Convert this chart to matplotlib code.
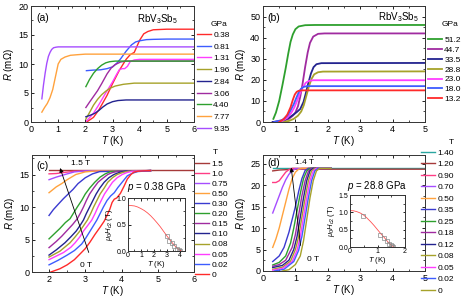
import matplotlib
matplotlib.use('Agg')
import matplotlib.pyplot as plt
from matplotlib.ticker import AutoMinorLocator, MultipleLocator, FormatStrFormatter

plt.rcParams['font.family'] = ['Liberation Sans', 'DejaVu Sans']
plt.rcParams['mathtext.fontset'] = 'custom'
plt.rcParams['mathtext.rm'] = 'Liberation Sans'
plt.rcParams['mathtext.it'] = 'Liberation Sans:italic'

# ---------------- colours ----------------
RED = '#ff2a2a'; BLUE = '#3d5cff'; MAG = '#ff3dff'; OLIVE = '#a6a22a'
NAVY = '#23238f'; PURP = '#a02ba0'; GREEN = '#2ea02e'; ORANGE = '#ffa23d'
VIOL = '#a64dff'; PINK = '#ff3d85'; BROWN = '#a63a3a'; TEAL = '#2aa6a0'
MBLUE = '#3a3ad0'

# ---------------- panel (a): R(T) at various pressures ----------------
a_labels = ['0.38', '0.81', '1.31', '1.96', '2.84', '3.06', '4.40', '7.77', '9.35']
a_colors = [RED, BLUE, MAG, OLIVE, NAVY, PURP, GREEN, ORANGE, VIOL]
a_T = [
    [2.05, 2.3, 2.5, 2.8, 3.0, 3.25, 3.5, 3.65, 3.8, 4.0, 4.15, 4.3, 4.5, 5.0, 6.0],
    [2.04, 2.3, 2.56, 2.8, 3.0, 3.15, 3.3, 3.5, 3.7, 3.85, 4.0, 4.25, 4.5, 5.0, 6.0],
    [2.05, 2.3, 2.5, 2.75, 3.0, 3.15, 3.25, 3.35, 3.45, 3.55, 3.65, 3.8, 4.0, 6.0],
    [2.02, 2.15, 2.3, 2.45, 2.6, 2.75, 2.9, 3.1, 3.4, 3.8, 4.2, 6.0],
    [2.02, 2.2, 2.35, 2.5, 2.65, 2.8, 3.0, 3.2, 3.5, 6.0],
    [2.02, 2.15, 2.3, 2.45, 2.6, 2.8, 2.95, 3.1, 3.3, 3.5, 6.0],
    [2.02, 2.15, 2.3, 2.45, 2.6, 2.75, 2.9, 3.1, 3.3, 6.0],
    [0.4, 0.5, 0.6, 0.7, 0.8, 0.9, 1.0, 1.1, 1.25, 1.45, 1.7, 2.0, 6.0],
    [0.4, 0.46, 0.52, 0.58, 0.64, 0.7, 0.76, 0.83, 0.92, 1.0, 6.0],
]
a_R = [
    [0.0, 0.8, 2.1, 4.6, 6.6, 8.9, 10.8, 11.6, 12.0, 14.1, 15.2, 15.6, 15.9, 16.0, 16.0],
    [8.85, 8.95, 9.0, 9.2, 9.5, 10.1, 10.9, 12.2, 13.3, 13.8, 14.0, 14.2, 14.25, 14.3, 14.3],
    [0.2, 1.5, 3.0, 5.0, 6.9, 8.2, 9.0, 9.2, 9.2, 9.6, 10.4, 10.7, 10.8, 10.8],
    [0.5, 1.6, 2.9, 3.9, 4.7, 5.3, 5.8, 6.2, 6.5, 6.7, 6.7, 6.7],
    [0.9, 1.2, 1.5, 2.0, 2.6, 3.1, 3.5, 3.7, 3.8, 3.8],
    [2.5, 3.4, 4.4, 5.4, 6.6, 8.3, 9.3, 9.9, 10.35, 10.5, 10.5],
    [6.1, 7.3, 8.4, 9.2, 9.8, 10.2, 10.4, 10.5, 10.5, 10.5],
    [1.7, 2.5, 3.2, 4.2, 5.6, 7.8, 10.0, 10.8, 11.2, 11.5, 11.6, 11.7, 11.7],
    [4.0, 6.4, 8.4, 10.1, 11.3, 12.0, 12.5, 12.8, 12.9, 12.95, 12.95],
]

# ---------------- panel (b): higher pressures ----------------
b_labels = ['51.2', '44.7', '33.5', '28.8', '23.0', '18.0', '13.2']
b_colors = [GREEN, PURP, NAVY, OLIVE, MAG, BLUE, RED]
b_T = [
    [0.32, 0.4, 0.5, 0.6, 0.7, 0.78, 0.85, 0.92, 1.0, 1.1, 1.3, 1.6, 5.0],
    [0.3, 0.6, 0.8, 0.92, 1.0, 1.08, 1.15, 1.22, 1.3, 1.38, 1.45, 1.55, 1.7, 1.9, 5.0],
    [0.3, 0.6, 0.8, 0.95, 1.05, 1.15, 1.25, 1.32, 1.4, 1.48, 1.56, 1.65, 1.8, 5.0],
    [0.6, 0.8, 0.95, 1.08, 1.18, 1.26, 1.34, 1.42, 1.5, 1.58, 1.7, 1.85, 5.0],
    [0.4, 0.6, 0.75, 0.88, 0.97, 1.05, 1.13, 1.22, 1.32, 1.42, 1.55, 5.0],
    [0.35, 0.6, 0.75, 0.85, 0.95, 1.03, 1.1, 1.17, 1.25, 1.35, 5.0],
    [0.5, 0.65, 0.75, 0.85, 0.92, 0.98, 1.04, 1.1, 1.2, 5.0],
]
b_R = [
    [1.5, 4.5, 10.0, 17.5, 25.5, 32.5, 38.0, 41.5, 44.0, 45.3, 45.9, 46.0, 46.0],
    [0.0, 0.5, 1.5, 3.0, 4.5, 7.5, 12.0, 18.0, 26.0, 33.0, 37.5, 40.5, 41.8, 42.0, 42.0],
    [0.0, 0.5, 2.0, 3.6, 4.8, 6.2, 9.5, 13.5, 18.5, 23.0, 26.0, 27.4, 27.9, 28.0],
    [0.0, 0.5, 1.5, 3.0, 5.0, 8.0, 12.5, 17.0, 20.5, 22.6, 23.6, 23.9, 24.0],
    [0.0, 0.6, 2.0, 4.5, 7.0, 10.0, 13.2, 16.3, 18.6, 19.5, 19.8, 19.8],
    [0.0, 1.0, 3.0, 5.5, 8.5, 11.5, 14.0, 15.7, 16.6, 17.0, 17.0],
    [0.0, 1.5, 3.5, 7.0, 10.5, 13.0, 14.3, 14.8, 15.0, 15.0],
]

# ---------------- panel (c): fields at p = 0.38 GPa ----------------
c_labels = ['1.5', '1.0', '0.75', '0.50', '0.30', '0.20', '0.15', '0.10', '0.08', '0.05', '0.02', '0']
c_colors = [BROWN, PINK, VIOL, ORANGE, MBLUE, GREEN, PURP, NAVY, OLIVE, MAG, BLUE, RED]
c_T = [
    [2.0, 6.0],
    [2.0, 2.2, 2.4, 2.7, 4.8],
    [2.0, 2.2, 2.44, 2.7, 3.0, 4.8],
    [2.0, 2.2, 2.35, 2.5, 2.74, 3.0, 3.3, 4.8],
    [2.0, 2.12, 2.25, 2.4, 2.53, 2.66, 2.8, 3.0, 3.2, 3.4, 4.8],
    [2.0, 2.15, 2.3, 2.45, 2.58, 2.68, 2.78, 2.9, 3.0, 3.12, 3.26, 3.41, 3.55, 3.7, 4.8],
    [2.0, 2.2, 2.35, 2.5, 2.65, 2.78, 2.87, 2.95, 3.03, 3.12, 3.23, 3.35, 3.48, 3.62, 3.75, 3.9, 4.8],
    [2.0, 2.2, 2.44, 2.6, 2.75, 2.85, 2.95, 3.03, 3.12, 3.21, 3.3, 3.4, 3.52, 3.65, 3.79, 3.95, 4.1, 4.8],
    [2.0, 2.3, 2.58, 2.72, 2.85, 2.95, 3.06, 3.15, 3.23, 3.32, 3.41, 3.52, 3.62, 3.75, 3.88, 4.05, 4.2, 4.8],
    [2.0, 2.4, 2.6, 2.72, 2.85, 2.95, 3.06, 3.18, 3.27, 3.35, 3.44, 3.53, 3.64, 3.75, 3.88, 4.02, 4.15, 4.3, 4.8],
    [2.0, 2.25, 2.5, 2.7, 2.9, 3.0, 3.1, 3.2, 3.32, 3.41, 3.5, 3.6, 3.7, 3.8, 3.9, 4.03, 4.16, 4.3, 4.45, 4.8],
    [2.05, 2.3, 2.5, 2.7, 2.86, 3.0, 3.13, 3.27, 3.41, 3.52, 3.6, 3.68, 3.74, 3.8, 3.87, 3.97, 4.07, 4.16, 4.26, 4.34, 4.45, 4.6, 4.8],
]
c_R = [
    [15.65, 15.65],
    [15.1, 15.15, 15.3, 15.5, 15.6],
    [14.2, 14.6, 15.0, 15.4, 15.55, 15.6],
    [12.2, 13.1, 13.6, 14.2, 15.0, 15.4, 15.55, 15.6],
    [8.7, 9.6, 10.4, 11.3, 12.0, 12.7, 13.6, 14.5, 15.1, 15.45, 15.6],
    [5.1, 5.9, 6.7, 7.6, 8.2, 9.1, 10.0, 11.0, 12.0, 12.9, 13.8, 14.6, 15.1, 15.45, 15.6],
    [3.75, 4.7, 5.5, 6.4, 7.3, 8.2, 9.1, 10.0, 11.0, 12.0, 12.9, 13.8, 14.4, 15.0, 15.3, 15.5, 15.6],
    [2.6, 3.4, 4.5, 5.4, 6.3, 7.1, 8.0, 9.0, 10.0, 11.0, 12.0, 12.9, 13.8, 14.5, 15.0, 15.35, 15.5, 15.6],
    [2.3, 3.2, 4.5, 5.4, 6.3, 7.1, 8.0, 9.0, 10.0, 11.0, 12.0, 12.9, 13.8, 14.5, 15.0, 15.35, 15.5, 15.6],
    [1.9, 3.0, 3.8, 4.5, 5.4, 6.3, 7.1, 8.0, 9.0, 10.0, 11.0, 12.0, 12.9, 13.8, 14.5, 15.0, 15.3, 15.5, 15.6],
    [1.1, 1.8, 2.6, 3.3, 4.3, 5.1, 6.0, 6.9, 8.0, 9.0, 10.0, 11.0, 11.7, 12.2, 13.0, 13.9, 14.8, 15.2, 15.45, 15.6],
    [0.0, 0.5, 1.1, 1.9, 2.8, 3.6, 4.6, 5.8, 6.9, 7.8, 8.7, 9.7, 10.7, 11.2, 11.4, 12.1, 13.2, 14.3, 15.0, 15.35, 15.5, 15.55, 15.6],
]

# inset (c): upper critical field
c_ins_T = [2.99, 3.19, 3.37, 3.57, 3.75, 3.9, 4.05]
c_ins_H = [0.28, 0.18, 0.15, 0.085, 0.045, 0.013, 0.0]
c_fit_T = [0.0, 0.25, 0.5, 0.75, 1.0, 1.25, 1.5, 1.75, 2.0, 2.25, 2.5, 2.75, 3.0, 3.25, 3.5, 3.75, 4.0, 4.12]
c_fit_H = [0.86, 0.857, 0.85, 0.83, 0.80, 0.765, 0.72, 0.665, 0.60, 0.53, 0.455, 0.37, 0.285, 0.205, 0.13, 0.065, 0.015, 0.0]

# ---------------- panel (d): fields at p = 28.8 GPa ----------------
d_labels = ['1.40', '1.20', '0.90', '0.70', '0.50', '0.35', '0.25', '0.18', '0.12', '0.08', '0.05', '0.02', '0']
d_colors = [TEAL, BROWN, PINK, VIOL, ORANGE, MBLUE, GREEN, PURP, NAVY, OLIVE, MAG, BLUE, OLIVE]
d_T = [
    [0.3, 5.0],
    [0.3, 0.5, 1.0, 5.0],
    [0.3, 0.4, 0.5, 0.6, 0.7, 0.8, 0.9, 2.1],
    [0.3, 0.4, 0.5, 0.6, 0.7, 0.8, 0.9, 1.0, 2.1],
    [0.3, 0.4, 0.5, 0.6, 0.7, 0.8, 0.9, 1.0, 1.1, 1.2, 2.1],
    [0.3, 0.5, 0.65, 0.8, 0.9, 1.0, 1.1, 1.2, 1.3, 1.4, 2.1],
    [0.3, 0.5, 0.7, 0.85, 0.95, 1.05, 1.15, 1.25, 1.35, 1.45, 2.1],
    [0.3, 0.5, 0.7, 0.9, 1.0, 1.1, 1.2, 1.3, 1.4, 1.5, 2.1],
    [0.3, 0.6, 0.8, 0.95, 1.05, 1.15, 1.25, 1.35, 1.45, 1.55, 2.1],
    [0.3, 0.6, 0.85, 1.0, 1.1, 1.2, 1.3, 1.4, 1.5, 1.6, 2.1],
    [0.3, 0.6, 0.9, 1.05, 1.15, 1.25, 1.35, 1.45, 1.55, 1.65, 2.1],
    [0.35, 0.65, 0.95, 1.1, 1.2, 1.3, 1.4, 1.5, 1.6, 1.7, 2.1],
    [0.6, 0.8, 1.0, 1.15, 1.25, 1.35, 1.45, 1.55, 1.65, 1.75, 2.1],
]
d_R = [
    [23.9, 23.9],
    [23.3, 23.5, 23.7, 23.7],
    [20.6, 20.6, 21.0, 22.0, 23.0, 23.6, 23.9, 23.9],
    [13.5, 15.5, 17.5, 19.5, 21.2, 22.5, 23.3, 23.8, 23.9],
    [5.5, 7.5, 10.0, 13.0, 16.0, 19.0, 21.5, 23.0, 23.7, 23.9, 23.9],
    [2.2, 3.5, 5.5, 9.0, 12.0, 15.0, 18.5, 21.5, 23.4, 23.9, 23.9],
    [1.4, 2.0, 3.5, 6.5, 10.0, 14.0, 18.0, 21.5, 23.3, 23.9, 23.9],
    [1.1, 1.5, 2.5, 5.5, 8.5, 13.0, 17.5, 21.0, 23.2, 23.9, 23.9],
    [0.8, 1.3, 2.5, 5.0, 8.0, 12.5, 17.0, 21.0, 23.3, 23.9, 23.9],
    [0.4, 0.9, 2.3, 5.0, 8.0, 12.5, 17.0, 21.0, 23.3, 23.9, 23.9],
    [0.2, 0.6, 2.2, 4.8, 8.0, 12.5, 17.0, 21.0, 23.3, 23.9, 23.9],
    [0.0, 0.4, 2.2, 4.8, 8.0, 12.5, 17.0, 21.0, 23.3, 23.9, 23.9],
    [0.0, 0.3, 1.5, 3.5, 7.0, 12.0, 17.0, 21.0, 23.3, 23.9, 23.9],
]

d_ins_T = [0.47, 1.1, 1.25, 1.35, 1.42, 1.48, 1.52, 1.55]
d_ins_H = [0.88, 0.35, 0.25, 0.17, 0.10, 0.06, 0.03, 0.01]
d_fit_T = [0.0, 0.125, 0.25, 0.375, 0.5, 0.625, 0.75, 0.875, 1.0, 1.125, 1.25, 1.375, 1.5, 1.6]
d_fit_H = [1.05, 1.045, 1.02, 0.98, 0.92, 0.83, 0.73, 0.62, 0.50, 0.38, 0.27, 0.15, 0.05, 0.0]

##########################################################################
W, H = 463, 297
fig = plt.figure(figsize=(W / 100, H / 100), dpi=100)


def px_axes(x0, y0, x1, y1):
    return fig.add_axes([x0 / W, 1 - y1 / H, (x1 - x0) / W, (y1 - y0) / H])


def style(ax, fs=6.5):
    ax.tick_params(which='both', direction='in', top=True, right=True, labelsize=fs, pad=2)
    ax.tick_params(which='major', length=2.5, width=0.6)
    ax.tick_params(which='minor', length=1.4, width=0.5)
    ax.xaxis.set_minor_locator(AutoMinorLocator(2))
    ax.yaxis.set_minor_locator(AutoMinorLocator(2))
    for s in ax.spines.values():
        s.set_linewidth(0.7)
        s.set_color('#333333')


def legend(ax, title, x, x_title, y_title, y_first, spacing):
    # y_first = centre of first entry, in pixels from top
    ax.legend(loc='upper left', bbox_to_anchor=(x / W, 1 - (y_first - 3) / H),
              bbox_transform=fig.transFigure, frameon=False, fontsize=6,
              handlelength=1.7, handletextpad=0.25,
              labelspacing=spacing, borderpad=0, borderaxespad=0)
    fig.text(x_title / W, 1 - y_title / H, title, fontsize=6, va='center')


def labels(ax):
    ax.set_xlabel('$T$ (K)', fontsize=7, labelpad=0)
    ax.set_ylabel('$R$ (m$\\Omega$)', fontsize=7, labelpad=1.5)


# ---- (a)
ax1 = px_axes(31, 6, 194, 122)
for T, R, c, l in zip(a_T, a_R, a_colors, a_labels):
    ax1.plot(T, R, color=c, lw=1.0, label=l)
ax1.set_xlim(0, 6)
ax1.set_ylim(0, 20)
ax1.xaxis.set_major_locator(MultipleLocator(1))
ax1.yaxis.set_major_locator(MultipleLocator(5))
style(ax1)
labels(ax1)
ax1.text(0.03, 0.94, '(a)', transform=ax1.transAxes, fontsize=7.5, va='top')
ax1.text(0.9, 0.95, 'RbV$_3$Sb$_5$', transform=ax1.transAxes, fontsize=7, va='top', ha='right')
legend(ax1, 'GPa', 197, 211, 25, 34, 0.47)

# ---- (b)
ax2 = px_axes(263, 6, 425, 122)
for T, R, c, l in zip(b_T, b_R, b_colors, b_labels):
    ax2.plot(T, R, color=c, lw=1.3, label=l)
ax2.set_xlim(0, 5)
ax2.set_ylim(0, 55)
ax2.xaxis.set_major_locator(MultipleLocator(1))
ax2.yaxis.set_major_locator(MultipleLocator(10))
style(ax2)
labels(ax2)
ax2.text(0.03, 0.94, '(b)', transform=ax2.transAxes, fontsize=7.5, va='top')
ax2.text(0.96, 0.96, 'RbV$_3$Sb$_5$', transform=ax2.transAxes, fontsize=7, va='top', ha='right')
legend(ax2, 'GPa', 428, 442, 25, 39, 0.25)

# ---- (c)
ax3 = px_axes(32, 155, 194, 272)
for T, R, c, l in zip(c_T, c_R, c_colors, c_labels):
    ax3.plot(T, R, color=c, lw=1.0, label=l)
ax3.set_xlim(1.53, 6)
ax3.set_ylim(0, 18)
ax3.xaxis.set_major_locator(MultipleLocator(1))
ax3.yaxis.set_major_locator(MultipleLocator(5))
style(ax3)
labels(ax3)
ax3.text(0.03, 0.95, '(c)', transform=ax3.transAxes, fontsize=7.5, va='top')
ax3.annotate('', xy=(2.28, 16.4), xytext=(3.12, 2.6),
             arrowprops=dict(arrowstyle='-|>', color='k', lw=0.6, mutation_scale=6))
ax3.text(2.6, 16.7, '1.5 T', fontsize=6, va='center')
ax3.text(2.85, 1.0, '0 T', fontsize=6, va='center')
ax3.text(4.16, 13.1, '$p$ = 0.38 GPa', fontsize=7, va='center')
legend(ax3, 'T', 195, 213, 152, 163, 0.27)

ins3 = px_axes(128, 198, 185, 251)
ins3.plot(c_fit_T, c_fit_H, color='#ff5050', lw=0.6)
ins3.plot(c_ins_T, c_ins_H, 's', mfc='none', mec='#888888', ms=2.5, mew=0.5)
ins3.set_xlim(0, 4.4)
ins3.set_ylim(0, 1.0)
ins3.xaxis.set_major_locator(MultipleLocator(1))
ins3.yaxis.set_major_locator(MultipleLocator(0.5))
style(ins3, fs=5)
ins3.tick_params(which='major', length=1.8, pad=1)
ins3.yaxis.set_major_formatter(FormatStrFormatter('%.1f'))
ins3.set_xlabel('$T$ (K)', fontsize=5.5, labelpad=0)
ins3.set_ylabel('$\\mu_0H_{c2}$ (T)', fontsize=5.5, labelpad=1)

# ---- (d)
ax4 = px_axes(263, 155, 425, 271)
for T, R, c, l in zip(d_T, d_R, d_colors, d_labels):
    ax4.plot(T, R, color=c, lw=1.0, label=l)
ax4.set_xlim(0, 5)
ax4.set_ylim(0, 27)
ax4.xaxis.set_major_locator(MultipleLocator(1))
ax4.yaxis.set_major_locator(MultipleLocator(5))
style(ax4)
labels(ax4)
ax4.text(0.03, 0.97, '(d)', transform=ax4.transAxes, fontsize=7.5, va='top')
ax4.annotate('', xy=(0.86, 24.7), xytext=(1.17, 5.3),
             arrowprops=dict(arrowstyle='-|>', color='k', lw=0.6, mutation_scale=6))
ax4.text(1.0, 25.2, '1.4 T', fontsize=6, va='center')
ax4.text(1.37, 2.6, '0 T', fontsize=6, va='center')
ax4.text(2.6, 19.8, '$p$ = 28.8 GPa', fontsize=7, va='center')
legend(ax4, 'T', 421, 449, 142, 152, 0.44)

ins4 = px_axes(350, 195, 405, 247)
ins4.plot(d_fit_T, d_fit_H, color='#ff5050', lw=0.6)
ins4.plot(d_ins_T, d_ins_H, 's', mfc='none', mec='#888888', ms=2.5, mew=0.5)
ins4.set_xlim(0, 2)
ins4.set_ylim(0, 1.5)
ins4.xaxis.set_major_locator(MultipleLocator(1))
ins4.yaxis.set_major_locator(MultipleLocator(0.5))
style(ins4, fs=5)
ins4.tick_params(which='major', length=1.8, pad=1)
ins4.yaxis.set_major_formatter(FormatStrFormatter('%.1f'))
ins4.set_xlabel('$T$ (K)', fontsize=5.5, labelpad=0)
ins4.set_ylabel('$\\mu_0H_{c2}$ (T)', fontsize=5.5, labelpad=1)

fig.savefig('out.png', dpi=100)
